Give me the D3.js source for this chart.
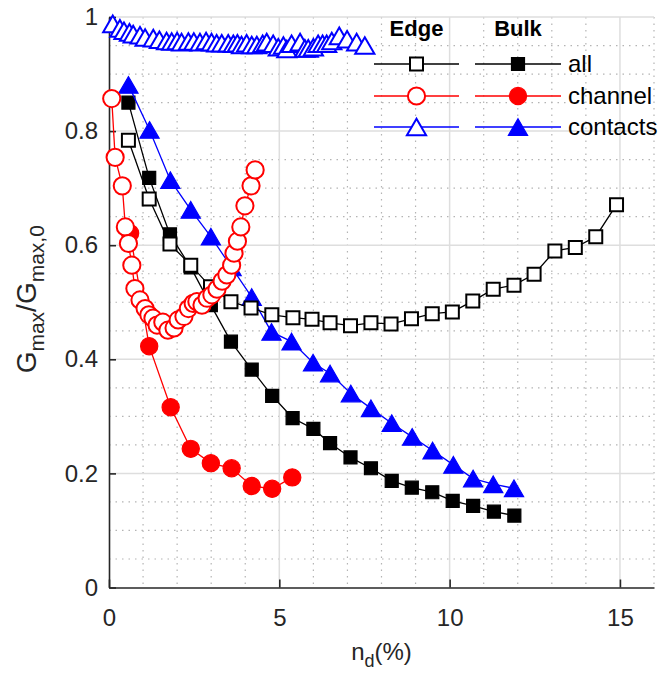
<!DOCTYPE html>
<html>
<head>
<meta charset="utf-8">
<script src="https://cdn.jsdelivr.net/npm/d3@7"></script>
<style>
  html, body { margin: 0; padding: 0; background: #fff; }
  svg { display: block; font-family: "Liberation Sans", Arial, Helvetica, sans-serif; }
</style>
</head>
<body>
<svg id="chart" width="669" height="675"></svg>
<script>
// ---- data: normalised peak conductance vs defect density ----
const xTickValues = [0, 5, 10, 15];
const yTickValues = [0, 0.2, 0.4, 0.6, 0.8, 1];
const xTickLabels = ["0", "5", "10", "15"];
const yTickLabels = ["0", "0.2", "0.4", "0.6", "0.8", "1"];

const bulkAllX = [0.57, 1.18, 1.79, 2.40, 2.99, 3.58, 4.19, 4.79, 5.39, 6.00, 6.49, 7.09, 7.69, 8.30, 8.89, 9.49, 10.09, 10.69, 11.30, 11.90];
const bulkAllY = [0.850, 0.718, 0.619, 0.561, 0.495, 0.431, 0.382, 0.336, 0.297, 0.278, 0.253, 0.228, 0.209, 0.187, 0.175, 0.167, 0.152, 0.143, 0.133, 0.126];

const bulkChannelX = [0.62, 1.18, 1.81, 2.40, 2.99, 3.60, 4.19, 4.79, 5.38];
const bulkChannelY = [0.621, 0.423, 0.316, 0.243, 0.218, 0.209, 0.178, 0.173, 0.193];

const bulkContactsX = [0.57, 1.19, 1.80, 2.40, 2.99, 3.60, 4.19, 4.77, 5.36, 5.99, 6.49, 7.10, 7.69, 8.30, 8.90, 9.50, 10.11, 10.69, 11.28, 11.89];
const bulkContactsY = [0.881, 0.802, 0.714, 0.662, 0.615, 0.561, 0.509, 0.448, 0.431, 0.394, 0.375, 0.340, 0.314, 0.288, 0.264, 0.240, 0.215, 0.191, 0.181, 0.174];

const edgeAllX = [0.57, 1.18, 1.79, 2.40, 2.98, 3.58, 4.17, 4.78, 5.40, 5.96, 6.49, 7.09, 7.69, 8.28, 8.88, 9.49, 10.08, 10.68, 11.28, 11.89, 12.48, 13.09, 13.69, 14.29, 14.90];
const edgeAllY = [0.784, 0.681, 0.602, 0.565, 0.527, 0.501, 0.490, 0.478, 0.473, 0.470, 0.464, 0.459, 0.464, 0.462, 0.471, 0.480, 0.483, 0.502, 0.523, 0.530, 0.549, 0.590, 0.596, 0.615, 0.671];

const edgeChannelX = [0.08, 0.18, 0.39, 0.48, 0.57, 0.67, 0.76, 0.91, 1.06, 1.17, 1.29, 1.41, 1.58, 1.73, 1.91, 2.03, 2.20, 2.33, 2.47, 2.58, 2.73, 2.88, 3.02, 3.17, 3.32, 3.46, 3.60, 3.67, 3.77, 3.87, 3.99, 4.17, 4.29];
const edgeChannelY = [0.857, 0.754, 0.704, 0.632, 0.603, 0.565, 0.524, 0.504, 0.489, 0.478, 0.472, 0.460, 0.465, 0.451, 0.455, 0.469, 0.475, 0.489, 0.498, 0.501, 0.495, 0.507, 0.513, 0.523, 0.537, 0.548, 0.565, 0.586, 0.607, 0.632, 0.669, 0.704, 0.732];

const edgeContactsX = [0.11, 0.32, 0.44, 0.60, 0.71, 0.91, 1.06, 1.30, 1.48, 1.69, 1.84, 2.00, 2.13, 2.33, 2.49, 2.67, 2.85, 3.01, 3.16, 3.31, 3.50, 3.65, 3.77, 3.89, 4.04, 4.19, 4.34, 4.51, 4.63, 4.82, 4.97, 5.12, 5.22, 5.36, 5.61, 5.75, 5.85, 6.00, 6.14, 6.27, 6.39, 6.54, 6.76, 6.99, 7.27, 7.51];
const edgeContactsY = [0.988, 0.980, 0.976, 0.973, 0.970, 0.968, 0.964, 0.963, 0.960, 0.958, 0.957, 0.958, 0.956, 0.957, 0.957, 0.956, 0.958, 0.956, 0.954, 0.954, 0.954, 0.953, 0.954, 0.951, 0.954, 0.951, 0.951, 0.953, 0.956, 0.953, 0.947, 0.950, 0.944, 0.953, 0.956, 0.945, 0.945, 0.947, 0.953, 0.953, 0.953, 0.958, 0.967, 0.961, 0.956, 0.950];

// ---- layout ----
const svg = d3.select("#chart");
const plotLeft = 109, plotRight = 654, plotTop = 17, plotBottom = 587.5;
const x = d3.scaleLinear().domain([0, 16]).range([plotLeft, plotRight]);
const y = d3.scaleLinear().domain([0, 1]).range([plotBottom, plotTop]);

const axisColor = "#262626";
const fontSize = 24;

// ---- grid ----
const grid = svg.append("g");
const minorX = d3.range(1, 17).filter(v => v % 5 !== 0);
const minorY = d3.range(1, 20).map(v => v * 0.05).filter(v => Math.abs(v * 5 - Math.round(v * 5)) > 1e-6);

grid.selectAll("line.mx").data(minorX).join("line")
  .attr("x1", d => x(d)).attr("x2", d => x(d))
  .attr("y1", plotTop).attr("y2", plotBottom)
  .attr("stroke", "#b4b4b4").attr("stroke-width", 1.2)
  .attr("stroke-dasharray", "1.5,5");
grid.selectAll("line.my").data(minorY).join("line")
  .attr("x1", plotLeft).attr("x2", plotRight)
  .attr("y1", d => y(d)).attr("y2", d => y(d))
  .attr("stroke", "#b4b4b4").attr("stroke-width", 1.2)
  .attr("stroke-dasharray", "1.5,5");
grid.selectAll("line.gx").data(xTickValues.filter(v => v > 0)).join("line")
  .attr("x1", d => x(d)).attr("x2", d => x(d))
  .attr("y1", plotTop).attr("y2", plotBottom)
  .attr("stroke", "#dedede").attr("stroke-width", 1.5);
grid.selectAll("line.gy").data(yTickValues.filter(v => v > 0)).join("line")
  .attr("x1", plotLeft).attr("x2", plotRight)
  .attr("y1", d => y(d)).attr("y2", d => y(d))
  .attr("stroke", "#dedede").attr("stroke-width", 1.5);

// ---- axes ----
const xAxis = d3.axisBottom(x).tickValues(xTickValues)
  .tickFormat((d, i) => xTickLabels[i]).tickSizeInner(-8).tickSizeOuter(0).tickPadding(21);
const yAxis = d3.axisLeft(y).tickValues(yTickValues)
  .tickFormat((d, i) => yTickLabels[i]).tickSizeInner(-7).tickSizeOuter(0).tickPadding(11);

const gx = svg.append("g").attr("transform", `translate(0,${plotBottom})`).call(xAxis);
const gy = svg.append("g").attr("transform", `translate(${plotLeft},0)`).call(yAxis);
[gx, gy].forEach(g => {
  g.select(".domain").attr("stroke", axisColor).attr("stroke-width", 1.6);
  g.selectAll(".tick line").attr("stroke", axisColor).attr("stroke-width", 1.6);
  g.selectAll(".tick text").attr("fill", axisColor)
    .style("font-size", fontSize + "px")
    .style("font-family", "'Liberation Sans', Arial, sans-serif");
});

// ---- axis titles ----
const xTitle = svg.append("text")
  .attr("x", (plotLeft + plotRight) / 2).attr("y", 660)
  .attr("text-anchor", "middle").attr("fill", axisColor)
  .style("font-size", fontSize + "px");
xTitle.append("tspan").text("n");
xTitle.append("tspan").attr("dy", 7).style("font-size", "18px").text("d");
xTitle.append("tspan").attr("dy", -7).text("(%)");

const yTitle = svg.append("text")
  .attr("transform", `translate(36,${(plotTop + plotBottom) / 2 - 3}) rotate(-90)`)
  .attr("text-anchor", "middle").attr("fill", axisColor)
  .style("font-size", "28px");
yTitle.append("tspan").text("G");
yTitle.append("tspan").attr("dy", 8).style("font-size", "21px").text("max");
yTitle.append("tspan").attr("dy", -8).text("/G");
yTitle.append("tspan").attr("dy", 8).style("font-size", "21px").text("max,0");

// ---- marker shapes ----
function markerPath(shape) {
  if (shape === "square") return "M-6.5,-6.5H6.5V6.5H-6.5Z";
  if (shape === "circle") return "M8.6,0A8.6,8.6 0 1,1 -8.6,0A8.6,8.6 0 1,1 8.6,0Z";
  // equilateral triangle, bounding box centred on the point
  return "M0,-8.3L9.6,8.3L-9.6,8.3Z";
}

const series = [
  { xs: bulkAllX, ys: bulkAllY, color: "#000000", shape: "square", filled: true },
  { xs: bulkChannelX, ys: bulkChannelY, color: "#ff0000", shape: "circle", filled: true },
  { xs: bulkContactsX, ys: bulkContactsY, color: "#0000ff", shape: "triangle", filled: true },
  { xs: edgeAllX, ys: edgeAllY, color: "#000000", shape: "square", filled: false },
  { xs: edgeChannelX, ys: edgeChannelY, color: "#ff0000", shape: "circle", filled: false },
  { xs: edgeContactsX, ys: edgeContactsY, color: "#0000ff", shape: "triangle", filled: false }
];

const line = d3.line().x(d => x(d[0])).y(d => y(d[1]));
const plotG = svg.append("g");

series.forEach(s => {
  const pts = s.xs.map((v, i) => [v, s.ys[i]]);
  const g = plotG.append("g");
  g.append("path").datum(pts)
    .attr("d", line).attr("fill", "none")
    .attr("stroke", s.color).attr("stroke-width", 1.3);
  g.selectAll("path.m").data(pts).join("path")
    .attr("class", "m")
    .attr("transform", d => `translate(${x(d[0])},${y(d[1])})`)
    .attr("d", markerPath(s.shape))
    .attr("fill", s.filled ? s.color : "#ffffff")
    .attr("stroke", s.color)
    .attr("stroke-width", s.filled ? 1.2 : 2);
});

// ---- legend ----
const legend = svg.append("g");
const legendRows = [
  { label: "all", color: "#000000", shape: "square", y: 64 },
  { label: "channel", color: "#ff0000", shape: "circle", y: 96 },
  { label: "contacts", color: "#0000ff", shape: "triangle", y: 127 }
];
const legendCols = [
  { title: "Edge", x1: 374, x2: 459, filled: false },
  { title: "Bulk", x1: 475, x2: 561, filled: true }
];

legendCols.forEach(c => {
  legend.append("text")
    .attr("x", (c.x1 + c.x2) / 2).attr("y", 36)
    .attr("text-anchor", "middle").attr("font-weight", "bold")
    .attr("fill", "#000").style("font-size", "22px").text(c.title);
  legendRows.forEach(r => {
    legend.append("line")
      .attr("x1", c.x1).attr("x2", c.x2).attr("y1", r.y).attr("y2", r.y)
      .attr("stroke", r.color).attr("stroke-width", 1.3);
    legend.append("path")
      .attr("transform", `translate(${(c.x1 + c.x2) / 2},${r.y})`)
      .attr("d", markerPath(r.shape))
      .attr("fill", c.filled ? r.color : "#ffffff")
      .attr("stroke", r.color).attr("stroke-width", c.filled ? 1.2 : 2);
  });
});
legendRows.forEach(r => {
  legend.append("text")
    .attr("x", 568).attr("y", r.y).attr("dy", "0.35em")
    .attr("fill", "#000").style("font-size", fontSize + "px").text(r.label);
});
</script>
</body>
</html>
